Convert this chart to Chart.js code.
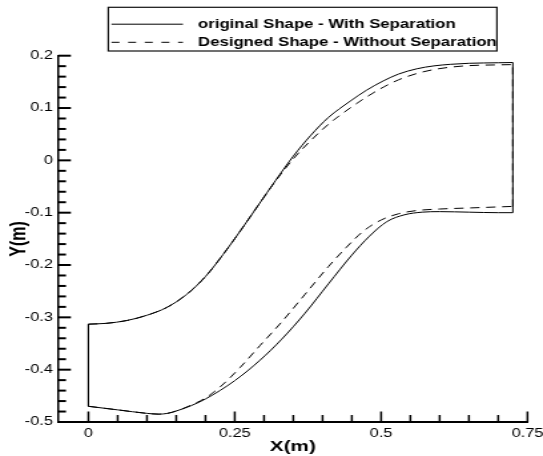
<!DOCTYPE html>
<html>
<head>
<meta charset="utf-8">
<script src="https://cdn.jsdelivr.net/npm/chart.js@4.4.1/dist/chart.umd.min.js"></script>
<style>
  html, body { margin: 0; padding: 0; background: #fff; }
  #c { display: block; width: 543px; height: 456px; background: #fff; }
</style>
</head>
<body>
<canvas id="c" width="408" height="456" style="width:543px;height:456px"></canvas>
<script>
// ---------------- data ----------------
const SERIES_LABELS = ['original Shape - With Separation', 'Designed Shape - Without Separation'];

const X_TICKS = [0, 0.25, 0.5, 0.75];
const X_TICK_LABELS = ['0', '0.25', '0.5', '0.75'];
const Y_TICKS = [-0.5, -0.4, -0.3, -0.2, -0.1, 0, 0.1, 0.2];
const Y_TICK_LABELS = ['-0.5', '-0.4', '-0.3', '-0.2', '-0.1', '0', '0.1', '0.2'];

// original shape (solid)
const ORIG_LOWER_X = [0, 0.05, 0.1, 0.12, 0.135, 0.15, 0.175, 0.2, 0.25, 0.293, 0.33, 0.37, 0.41, 0.45, 0.48, 0.51, 0.54, 0.57, 0.6, 0.65, 0.7, 0.725];
const ORIG_LOWER_Y = [-0.470, -0.4768, -0.4835, -0.485, -0.4835, -0.479, -0.469, -0.456, -0.421, -0.382, -0.342, -0.292, -0.236, -0.181, -0.145, -0.117, -0.104, -0.099, -0.098, -0.099, -0.100, -0.100];
const ORIG_UPPER_X = [0, 0.03, 0.066, 0.1, 0.134, 0.168, 0.2, 0.23, 0.26, 0.29, 0.32, 0.35, 0.38, 0.41, 0.447, 0.475, 0.504, 0.53, 0.561, 0.59, 0.618, 0.65, 0.7, 0.725];
const ORIG_UPPER_Y = [-0.313, -0.3115, -0.306, -0.296, -0.281, -0.256, -0.222, -0.180, -0.134, -0.086, -0.038, 0.008, 0.048, 0.082, 0.113, 0.134, 0.152, 0.165, 0.175, 0.1805, 0.1835, 0.1855, 0.1865, 0.187];
const ORIG_INLET_X = [0, 0];
const ORIG_INLET_Y = [-0.313, -0.470];
const ORIG_OUTLET_X = [0.725, 0.725];
const ORIG_OUTLET_Y = [-0.100, 0.187];

// designed shape (dashed)
const DES_LOWER_X = [0, 0.05, 0.1, 0.12, 0.135, 0.15, 0.175, 0.2, 0.225, 0.259, 0.293, 0.33, 0.37, 0.41, 0.44, 0.47, 0.5, 0.53, 0.56, 0.6, 0.65, 0.7, 0.725];
const DES_LOWER_Y = [-0.470, -0.4768, -0.4835, -0.485, -0.4835, -0.479, -0.468, -0.454, -0.433, -0.396, -0.354, -0.309, -0.256, -0.203, -0.167, -0.135, -0.114, -0.102, -0.096, -0.093, -0.091, -0.089, -0.088];
const DES_UPPER_X = [0, 0.03, 0.066, 0.1, 0.134, 0.168, 0.2, 0.23, 0.26, 0.29, 0.32, 0.35, 0.38, 0.41, 0.447, 0.475, 0.504, 0.53, 0.561, 0.59, 0.618, 0.65, 0.7, 0.725];
const DES_UPPER_Y = [-0.313, -0.3115, -0.306, -0.296, -0.281, -0.256, -0.222, -0.180, -0.134, -0.086, -0.039, 0.003, 0.038, 0.069, 0.100, 0.121, 0.140, 0.154, 0.166, 0.1735, 0.178, 0.181, 0.1825, 0.183];
const DES_OUTLET_X = [0.725, 0.725];
const DES_OUTLET_Y = [-0.088, 0.183];

// ---------------- chart ----------------
const FONT = '"Liberation Sans", Arial, Helvetica, sans-serif';
Chart.defaults.color = '#000';
Chart.defaults.font.family = FONT;

const pts = (xs, ys) => xs.map((x, i) => ({ x: x, y: ys[i] }));
const SOLID = { borderColor: '#000', borderWidth: 1, pointRadius: 0, showLine: true, fill: false };
const DASHED = { borderColor: '#000', borderWidth: 1, pointRadius: 0, showLine: true, fill: false, borderDash: [7, 5] };

const datasets = [
  Object.assign({ label: SERIES_LABELS[0], data: pts(ORIG_LOWER_X, ORIG_LOWER_Y), cubicInterpolationMode: 'monotone' }, SOLID),
  Object.assign({ label: SERIES_LABELS[0], data: pts(ORIG_UPPER_X, ORIG_UPPER_Y), cubicInterpolationMode: 'monotone' }, SOLID),
  Object.assign({ label: SERIES_LABELS[0], data: pts(ORIG_INLET_X, ORIG_INLET_Y) }, SOLID),
  Object.assign({ label: SERIES_LABELS[0], data: pts(ORIG_OUTLET_X, ORIG_OUTLET_Y) }, SOLID),
  Object.assign({ label: SERIES_LABELS[1], data: pts(DES_LOWER_X, DES_LOWER_Y), cubicInterpolationMode: 'monotone' }, DASHED),
  Object.assign({ label: SERIES_LABELS[1], data: pts(DES_UPPER_X, DES_UPPER_Y), cubicInterpolationMode: 'monotone' }, DASHED),
  Object.assign({ label: SERIES_LABELS[1], data: pts(DES_OUTLET_X, DES_OUTLET_Y) }, DASHED)
];

// inward major / minor tick marks
const axisTicks = {
  id: 'axisTicks',
  afterDraw(chart) {
    const ctx = chart.ctx, xs = chart.scales.x, ys = chart.scales.y, ca = chart.chartArea;
    ctx.save();
    ctx.strokeStyle = '#000';
    // x axis
    ctx.lineWidth = 1.5;
    for (let i = 0; i <= 15; i++) {
      const v = i * 0.05;
      const major = (i % 5 === 0);
      const px = xs.getPixelForValue(v);
      ctx.beginPath();
      ctx.moveTo(px, ca.bottom);
      ctx.lineTo(px, ca.bottom - (major ? 10.5 : 7));
      ctx.stroke();
    }
    // y axis
    ctx.lineWidth = 2;
    for (let i = 0; i <= 35; i++) {
      const v = -0.5 + i * 0.02;
      const major = (i % 5 === 0);
      const py = ys.getPixelForValue(v);
      ctx.beginPath();
      ctx.moveTo(ca.left, py);
      ctx.lineTo(ca.left + (major ? 9.5 : 5.8), py);
      ctx.stroke();
    }
    ctx.restore();
  }
};

// boxed legend
const legendBox = {
  id: 'legendBox',
  afterDraw(chart) {
    const ctx = chart.ctx;
    ctx.save();
    ctx.fillStyle = '#fff';
    ctx.fillRect(81.4, 7.3, 292, 43.7);
    ctx.strokeStyle = '#111';
    ctx.lineWidth = 1.2;
    ctx.strokeRect(81.4, 7.3, 292, 43.7);
    const rows = [24.2, 42.3];
    ctx.lineWidth = 1;
    ctx.strokeStyle = '#000';
    rows.forEach((y, i) => {
      ctx.setLineDash(i === 0 ? [] : [6, 6.5]);
      ctx.beginPath();
      ctx.moveTo(83.8, y);
      ctx.lineTo(137.5, y);
      ctx.stroke();
    });
    ctx.setLineDash([]);
    ctx.fillStyle = '#000';
    ctx.font = 'bold 12.6px ' + FONT;
    ctx.textBaseline = 'middle';
    ctx.textAlign = 'left';
    rows.forEach((y, i) => ctx.fillText(SERIES_LABELS[i], 148.8, y + 0.5));
    ctx.restore();
  }
};

new Chart(document.getElementById('c'), {
  type: 'scatter',
  data: { datasets: datasets },
  options: {
    responsive: false,
    animation: false,
    devicePixelRatio: 1,
    layout: { padding: { left: 0, right: 11.65, top: 55.7, bottom: 0 } },
    plugins: { legend: { display: false }, tooltip: { enabled: false } },
    scales: {
      x: {
        type: 'linear', min: -0.0515, max: 0.75,
        grid: { display: false, drawTicks: false },
        border: { display: true, color: '#000', width: 2 },
        ticks: { autoSkip: false, maxRotation: 0, padding: 4, color: '#000',
                 font: { size: 12.3, family: FONT },
                 callback: (v, i) => X_TICK_LABELS[i] },
        title: { display: true, text: 'X(m)', color: '#000',
                 font: { size: 15.5, weight: 'bold', family: FONT }, padding: { top: 0, bottom: 0 } },
        afterBuildTicks: s => { s.ticks = X_TICKS.map(v => ({ value: v })); },
        afterFit: s => { s.height = 34; s.paddingLeft = 0; s.paddingRight = 0; }
      },
      y: {
        type: 'linear', min: -0.5, max: 0.2,
        grid: { display: false, drawTicks: false },
        border: { display: true, color: '#000', width: 1.5 },
        ticks: { autoSkip: false, padding: 4, color: '#000',
                 font: { size: 12.3, family: FONT },
                 callback: (v, i) => Y_TICK_LABELS[i] },
        title: { display: true, text: 'Y(m)', color: '#000',
                 font: { size: 16, weight: 'bold', family: FONT }, padding: { top: 5, bottom: 0 } },
        afterBuildTicks: s => { s.ticks = Y_TICKS.map(v => ({ value: v })); },
        afterFit: s => { s.width = 43.8; s.paddingTop = 0; s.paddingBottom = 0; }
      }
    }
  },
  plugins: [axisTicks, legendBox]
});
</script>
</body>
</html>
